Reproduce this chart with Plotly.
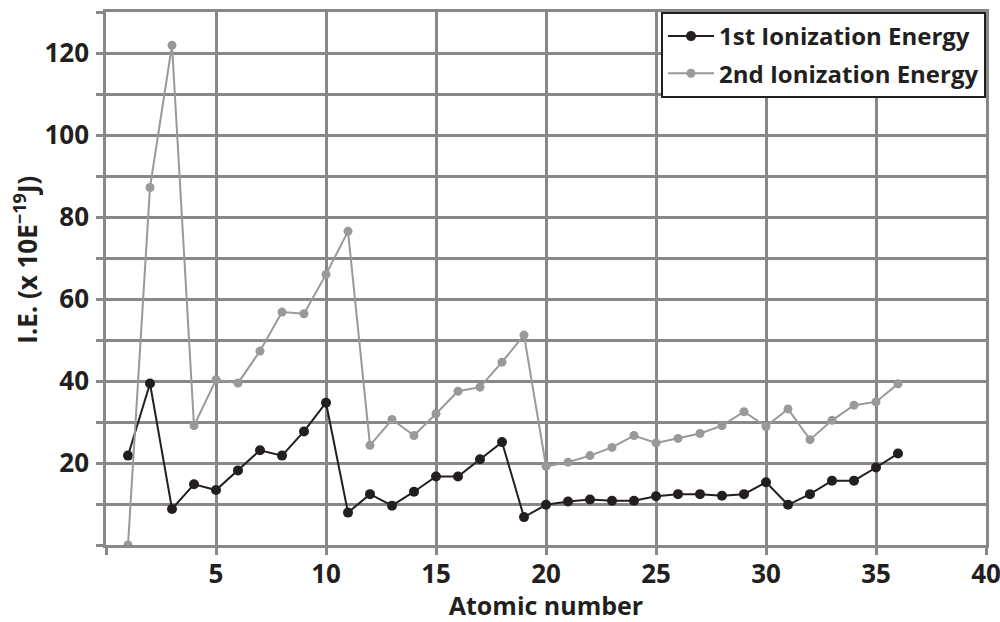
import plotly.graph_objects as go

atomic_number = list(range(1, 37))
ie1 = [21.8, 39.4, 8.8, 14.8, 13.4, 18.2, 23.1, 21.8, 27.7, 34.7,
       7.9, 12.4, 9.6, 13.0, 16.7, 16.7, 20.9, 25.1, 6.8, 9.8,
       10.6, 11.1, 10.8, 10.8, 11.9, 12.4, 12.4, 12.0, 12.4, 15.3,
       9.8, 12.4, 15.7, 15.7, 18.9, 22.3]
ie2 = [0.0, 87.2, 121.9, 29.1, 40.3, 39.5, 47.3, 56.8, 56.4, 66.0,
       76.5, 24.3, 30.6, 26.7, 32.0, 37.5, 38.5, 44.6, 51.2, 19.2,
       20.2, 21.8, 23.8, 26.7, 24.9, 26.0, 27.2, 29.1, 32.5, 28.9,
       33.2, 25.7, 30.4, 34.1, 34.9, 39.3]

x_tickvals = [0, 5, 10, 15, 20, 25, 30, 35, 40]
x_ticktext = ["", "5", "10", "15", "20", "25", "30", "35", "40"]
y_tickvals = [0, 10, 20, 30, 40, 50, 60, 70, 80, 90, 100, 110, 120, 130]
y_ticktext = ["", "", "20", "", "40", "", "60", "", "80", "", "100", "", "120", ""]

FONT = "Open Sans"
GRID = "#888888"
DARK = "#231f20"
LIGHT = "#999999"

fig = go.Figure()
fig.add_trace(go.Scatter(
    x=atomic_number, y=ie1, mode="lines+markers", name="1st Ionization Energy",
    legendgroup="a",
    line=dict(color=DARK, width=2), marker=dict(color=DARK, size=10)))
fig.add_trace(go.Scatter(
    x=atomic_number, y=ie2, mode="lines+markers", name="2nd Ionization Energy",
    legendgroup="b",
    line=dict(color=LIGHT, width=2), marker=dict(color=LIGHT, size=9)))

fig.update_layout(
    width=1000, height=622,
    margin=dict(l=106, r=14, t=12, b=77),
    paper_bgcolor="white", plot_bgcolor="white",
    font=dict(family=FONT, color=DARK),
    showlegend=True,
    legend=dict(x=1, y=1, xanchor="right", yanchor="top",
                bgcolor="white", bordercolor=DARK, borderwidth=2,
                font=dict(family=FONT, size=24, color=DARK, weight="bold"),
                itemwidth=46, tracegroupgap=3),
    xaxis=dict(range=[0, 40], tickvals=x_tickvals, ticktext=x_ticktext,
               automargin=False, ticklabeloverflow="allow",
               showgrid=True, gridcolor=GRID, gridwidth=2.5,
               showline=True, linecolor=GRID, linewidth=2.5, mirror=True,
               ticks="outside", ticklen=7, tickcolor=GRID, tickwidth=2.5,
               zeroline=False, ticklabelstandoff=-3,
               tickfont=dict(family=FONT, size=26, color=DARK, weight="bold"),
               title=dict(text="Atomic number", standoff=20,
                          font=dict(family=FONT, size=25, color=DARK, weight="bold"))),
    yaxis=dict(range=[0, 130], tickvals=y_tickvals, ticktext=y_ticktext,
               automargin=False,
               showgrid=True, gridcolor=GRID, gridwidth=2.5,
               showline=True, linecolor=GRID, linewidth=2.5, mirror=True,
               ticks="outside", ticklen=7, tickcolor=GRID, tickwidth=2.5,
               zeroline=False, ticklabelstandoff=2,
               tickfont=dict(family=FONT, size=26, color=DARK, weight="bold")),
)

fig.add_annotation(
    text="I.E. (x 10E<sup>\u221219</sup>J)", textangle=-90,
    xref="paper", yref="paper", x=0, y=0.535, xshift=-80,
    xanchor="center", yanchor="middle", showarrow=False,
    font=dict(family=FONT, size=26, color=DARK, weight="bold"))

fig.write_html(
    "out.html",
    config={"displayModeBar": False},
    post_script="document.body.style.margin='0';document.body.style.overflow='hidden';")
